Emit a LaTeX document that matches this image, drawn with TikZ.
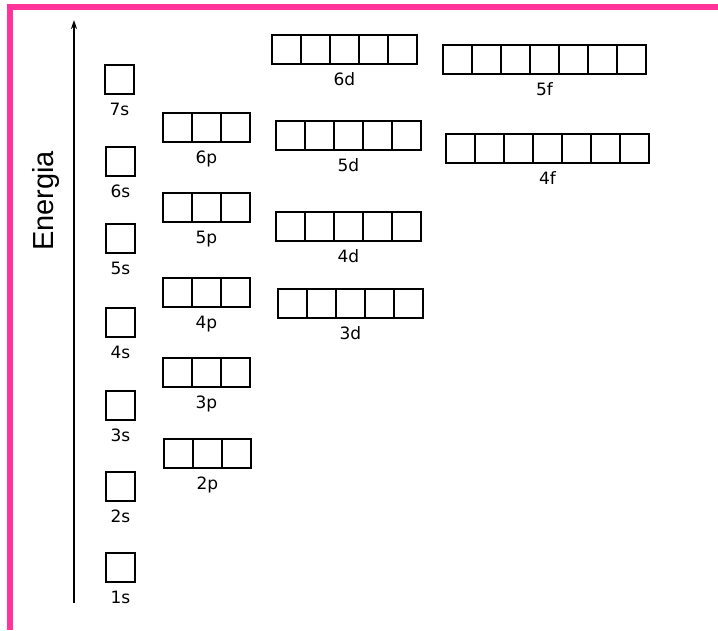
\documentclass[tikz,border=0pt]{standalone}
\usepackage{fontspec}
\setmainfont{Liberation Sans}
\newfontfamily\labelfont{DejaVu Sans}
\usetikzlibrary{arrows.meta}
\definecolor{framepink}{RGB}{255,51,153}
\tikzstyle{cell} = [
    rectangle,
    minimum width=29pt,
    minimum height=29pt,
    inner sep=0pt,
    anchor=north west,
    line width=1.8pt,
    draw=black
]
\tikzstyle{sublabel} = [
    font=\labelfont\fontsize{17}{17}\selectfont,
    inner sep=0pt,
    anchor=base
]
\tikzstyle{axislabel} = [
    rotate=90,
    font=\fontsize{29}{29}\selectfont,
    inner sep=0pt
]
\tikzstyle{arrow} = [line width=1.5pt,-{Stealth[length=9pt,width=6pt]}]

\newcommand{\subshell}[5]{%
  \foreach \k in {1,...,#4}
    \node (#1-\k) [cell] at ({#2+29*(\k-1)},#3) {};
  \pgfmathtruncatemacro{\midcell}{(#4+1)/2}
  \node (#1) [sublabel] at ([yshift=-21pt]#1-\midcell.south) {#5};
}

\begin{document}
\begin{tikzpicture}[x=1pt, y=-1pt]

\useasboundingbox (0,0) rectangle (718,630);
\fill[framepink] (7,4) rectangle (718,10);
\fill[framepink] (7,4) rectangle (13,630);

\coordinate (axisbot) at (74,603);
\coordinate (axistop) at (74,20);
\draw [arrow] (axisbot) -- (axistop);
\node (energia) [axislabel] at (46,201) {Energia};

\subshell{s7}{104}{64}{1}{7s}
\subshell{s6}{105}{146}{1}{6s}
\subshell{s5}{105}{223}{1}{5s}
\subshell{s4}{105}{307}{1}{4s}
\subshell{s3}{105}{390}{1}{3s}
\subshell{s2}{105}{471}{1}{2s}
\subshell{s1}{105}{552}{1}{1s}

\subshell{p6}{162}{112}{3}{6p}
\subshell{p5}{162}{192}{3}{5p}
\subshell{p4}{162}{277}{3}{4p}
\subshell{p3}{162}{357}{3}{3p}
\subshell{p2}{163}{438}{3}{2p}

\subshell{d6}{271}{34}{5}{6d}
\subshell{d5}{275}{120}{5}{5d}
\subshell{d4}{275}{211}{5}{4d}
\subshell{d3}{277}{288}{5}{3d}

\subshell{f5}{442}{44}{7}{5f}
\subshell{f4}{445}{133}{7}{4f}

\end{tikzpicture}
\end{document}
